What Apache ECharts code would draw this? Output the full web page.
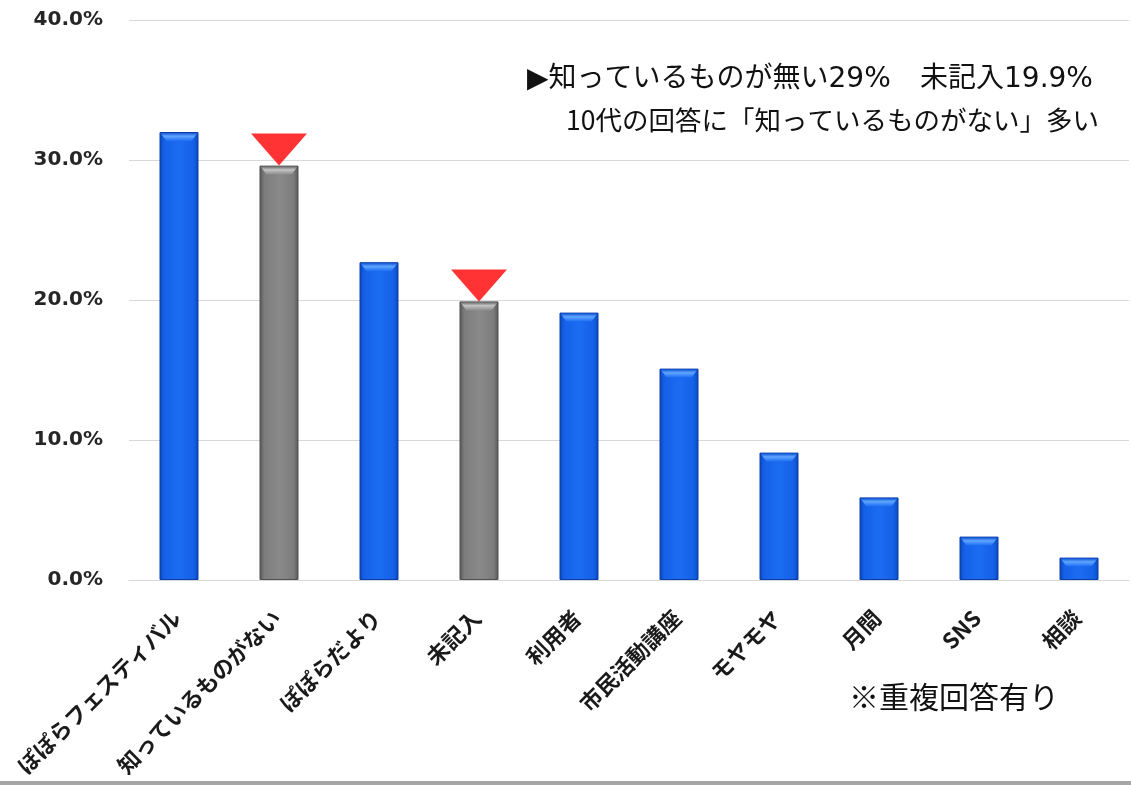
<!DOCTYPE html>
<html>
<head>
<meta charset="utf-8">
<script src="https://cdn.jsdelivr.net/npm/echarts@6/dist/echarts.min.js"></script>
<style>
html,body{margin:0;padding:0;background:#fff;}
#c{width:1131px;height:785px;}
</style>
</head>
<body>
<div id="c"></div>
<script>
const categories = ['ぽぽらフェスティバル','知っているものがない','ぽぽらだより','未記入','利用者','市民活動講座','モヤモヤ','月間','SNS','相談'];
const values = [32.0, 29.6, 22.7, 19.9, 19.1, 15.1, 9.1, 5.9, 3.1, 1.6];
const highlighted = [1, 3];
const yTicks = [0, 10, 20, 30, 40];
const noteLine1a = '▶知っているものが無い29%';
const noteLine1b = '未記入19.9%';
const noteLine2 = '10代の回答に「知っているものがない」多い';
const footNote = '※重複回答有り';

function grad(dark, mid, light) {
  return new echarts.graphic.LinearGradient(0, 0, 1, 0, [
    {offset: 0, color: dark},
    {offset: 0.12, color: mid},
    {offset: 0.5, color: light},
    {offset: 0.88, color: mid},
    {offset: 1, color: dark}
  ]);
}
const blue = grad('#0a45b8', '#1560e6', '#1c6cf2');
const gray = grad('#555555', '#7c7c7c', '#8a8a8a');
const BAR_W = 39;

const chart = echarts.init(document.getElementById('c'));
chart.setOption({
  animation: false,
  backgroundColor: '#ffffff',
  grid: {left: 129, right: 2, top: 20, bottom: 205, containLabel: false},
  xAxis: {
    type: 'category',
    data: categories,
    axisTick: {show: false},
    axisLine: {lineStyle: {color: '#d9d9d9', width: 1}},
    axisLabel: {
      interval: 0, rotate: 45, margin: 32, padding: [0, 3, 0, 0],
      fontFamily: 'Noto Sans CJK JP', fontSize: 22, fontWeight: 'bold', color: '#1a1a1a'
    }
  },
  yAxis: {
    type: 'value', min: yTicks[0], max: yTicks[yTicks.length - 1], interval: 10,
    axisLine: {show: false}, axisTick: {show: false},
    splitLine: {lineStyle: {color: '#d9d9d9', width: 1}},
    axisLabel: {
      margin: 26, fontFamily: 'DejaVu Sans', fontWeight: 'bold', fontSize: 20, color: '#262626',
      formatter: v => v.toFixed(1) + '%'
    }
  },
  series: [
    {
      type: 'bar',
      barWidth: BAR_W,
      data: values.map((v, i) => ({
        value: v,
        itemStyle: {
          color: highlighted.includes(i) ? gray : blue,
          borderColor: highlighted.includes(i) ? '#505050' : '#0a3fa8',
          borderWidth: 1
        }
      }))
    },
    {
      type: 'custom',
      z: 4,
      silent: true,
      data: values.map((v, i) => [i, v]),
      renderItem: function (params, api) {
        const i = api.value(0);
        const p = api.coord([i, api.value(1)]);
        const hw = BAR_W / 2 - 1;
        const hl = highlighted.includes(i);
        return {
          type: 'polygon',
          shape: {points: [[p[0] - hw, p[1] + 1], [p[0] + hw, p[1] + 1], [p[0] + hw - 6, p[1] + 9], [p[0] - hw + 6, p[1] + 9]]},
          style: {
            fill: new echarts.graphic.LinearGradient(0, 0, 0, 1, hl
              ? [{offset: 0, color: '#6e6e6e'}, {offset: 0.4, color: '#c4c4c4'}, {offset: 1, color: '#8a8a8a'}]
              : [{offset: 0, color: '#1558d8'}, {offset: 0.4, color: '#5fa6ff'}, {offset: 1, color: '#1c6cf2'}])
          }
        };
      }
    },
    {
      type: 'scatter',
      symbol: 'path://M0,0L2,0L1,1Z',
      symbolSize: [56, 32],
      symbolOffset: [0, -16],
      itemStyle: {color: '#ff0000'},
      z: 5,
      data: values.map((v, i) => highlighted.includes(i) ? v : null)
    }
  ],
  graphic: [
    {type: 'text', left: 527, top: 66, style: {text: noteLine1a, fontFamily: 'DejaVu Sans, Noto Sans CJK JP', fontSize: 28, fill: '#111'}},
    {type: 'text', left: 920, top: 66, style: {text: noteLine1b, fontFamily: 'DejaVu Sans, Noto Sans CJK JP', fontSize: 28, fill: '#111'}},
    {type: 'text', left: 566, top: 107, style: {text: noteLine2, fontFamily: 'Noto Sans CJK JP', fontSize: 26.5, fill: '#111'}},
    {type: 'text', left: 849, top: 682, style: {text: footNote, fontFamily: 'Noto Sans CJK JP', fontSize: 30, fill: '#111'}},
    {type: 'rect', shape: {x: 0, y: 781, width: 1131, height: 4}, style: {fill: '#a6a6a6'}}
  ]
});
</script>
</body>
</html>
